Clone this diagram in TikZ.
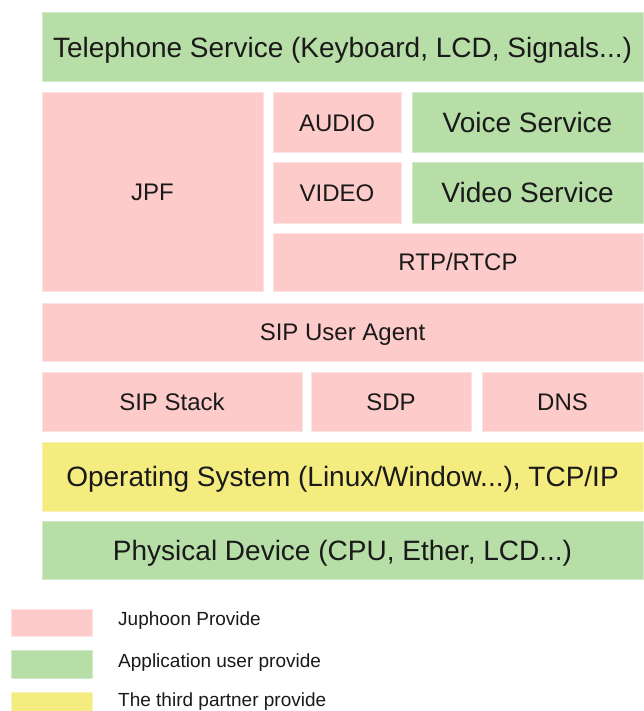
\documentclass[tikz,border=0pt]{standalone}
\usepackage{fontspec}
\setmainfont{Liberation Sans}
\definecolor{pinkfill}{HTML}{FDCCCA}
\definecolor{pinkedge}{HTML}{FEE2E1}
\definecolor{greenfill}{HTML}{B7DEA6}
\definecolor{greenedge}{HTML}{D3EBC8}
\definecolor{yellowfill}{HTML}{F5EC80}
\definecolor{yellowedge}{HTML}{F9F3B8}
\definecolor{txt}{HTML}{1A1A1A}
\tikzset{
  layer/.style={rectangle, inner sep=0pt, line width=1pt, text=txt},
  pinkbox/.style={layer, fill=pinkfill, draw=pinkedge},
  greenbox/.style={layer, fill=greenfill, draw=greenedge},
  yellowbox/.style={layer, fill=yellowfill, draw=yellowedge},
  bigtext/.style={font=\fontsize{28}{30}\selectfont, text height=20pt, text depth=0pt},
  midtext/.style={font=\fontsize{24}{26}\selectfont, text height=17.2pt, text depth=0pt},
  legtext/.style={anchor=west, inner sep=0pt, text=txt, font=\fontsize{19}{21}\selectfont, text height=13.6pt, text depth=0pt}
}
\begin{document}
\begin{tikzpicture}[x=1pt,y=-1pt]
\useasboundingbox[fill=white] (0,0) rectangle (643,711);
% top layer
\node[greenbox, bigtext, minimum width=601pt, minimum height=69pt] (tel) at (342.5,47.5) {Telephone Service (Keyboard, LCD, Signals...)};
% media layer
\node[pinkbox, midtext, minimum width=221pt, minimum height=198pt] (jpf) at (152.5,192) {JPF};
\node[pinkbox, midtext, minimum width=128pt, minimum height=60pt] (audio) at (337,123) {AUDIO};
\node[greenbox, bigtext, minimum width=231pt, minimum height=60pt] (voice) at (527.5,123) {Voice Service};
\node[pinkbox, midtext, minimum width=128pt, minimum height=60pt] (video) at (337,193) {VIDEO};
\node[greenbox, bigtext, minimum width=231pt, minimum height=60pt] (vsvc) at (527.5,193) {Video Service};
\node[pinkbox, midtext, minimum width=370pt, minimum height=58pt] (rtp) at (458,262) {RTP/RTCP};
% SIP layers
\node[pinkbox, midtext, minimum width=601pt, minimum height=58pt] (sipua) at (342.5,332) {SIP User Agent};
\node[pinkbox, midtext, minimum width=260pt, minimum height=59pt] (sipstack) at (172,401.5) {SIP Stack};
\node[pinkbox, midtext, minimum width=160pt, minimum height=59pt] (sdp) at (391,401.5) {SDP};
\node[pinkbox, midtext, minimum width=161pt, minimum height=59pt] (dns) at (562.5,401.5) {DNS};
% system layers
\node[yellowbox, bigtext, minimum width=601pt, minimum height=69pt] (os) at (342.5,476.5) {Operating System (Linux/Window...), TCP/IP};
\node[greenbox, bigtext, minimum width=601pt, minimum height=58pt] (phys) at (342.5,550) {Physical Device (CPU, Ether, LCD...)};
% legend
\node[pinkbox, minimum width=81pt, minimum height=27pt] (lg1) at (51.5,622.5) {};
\node[greenbox, minimum width=81pt, minimum height=28pt] (lg2) at (51.5,664) {};
\node[yellowbox, minimum width=81pt, minimum height=19pt] (lg3) at (51.5,701.5) {};
\node[legtext] (lt1) at (118,619) {Juphoon Provide};
\node[legtext] (lt2) at (118,661) {Application user provide};
\node[legtext] (lt3) at (118,700) {The third partner provide};
\end{tikzpicture}
\end{document}
